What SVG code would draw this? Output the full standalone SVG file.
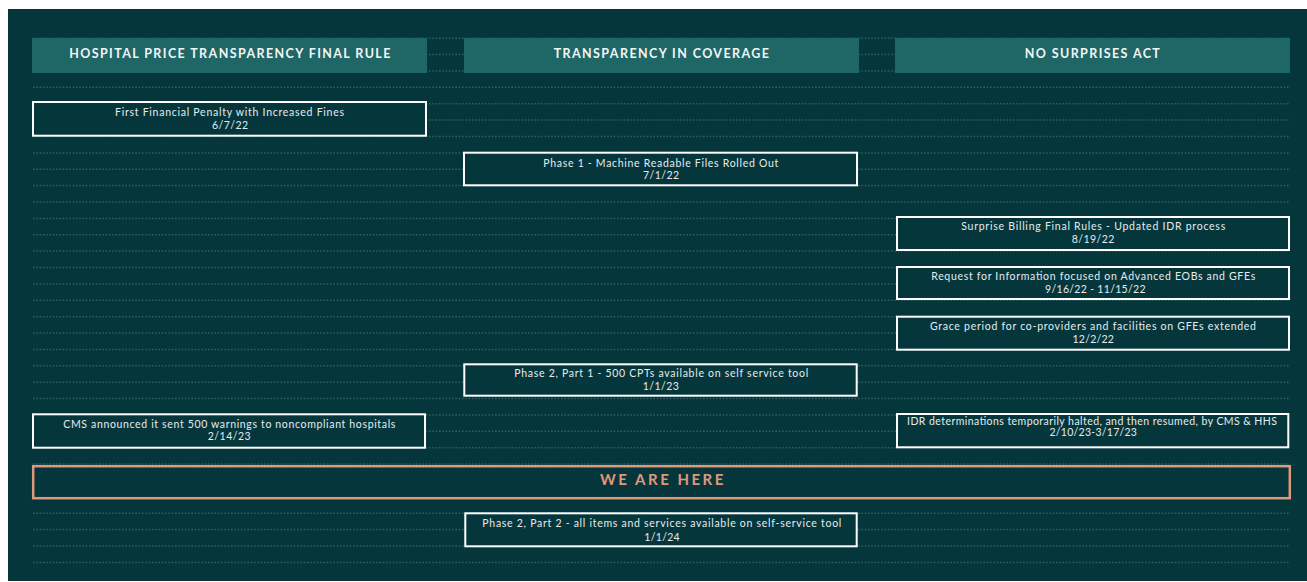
<svg xmlns="http://www.w3.org/2000/svg" width="1307" height="582" viewBox="0 0 1307 582">
<defs>
<style>
.bg{fill:#04363c}
.hdr{fill:#1f6766}
.dots{stroke:#2c5f63;stroke-width:1.5;stroke-dasharray:1.6 1.7;fill:none}
.box{fill:#04363c;stroke:#ffffff;stroke-width:2}
.here{fill:#04363c;stroke:#e0987a;stroke-width:2.5}
.ht{font-family:Lato,"Liberation Sans",sans-serif;font-weight:700;font-size:12.5px;letter-spacing:1.4px;fill:#f2f5f5;text-anchor:middle}
.bt{font-family:Lato,"Liberation Sans",sans-serif;font-size:10.5px;fill:#e6ecec;text-anchor:middle}
.wt{font-family:Lato,"Liberation Sans",sans-serif;font-weight:700;font-size:15px;letter-spacing:2.5px;fill:#e0987a;text-anchor:middle}
</style>
</defs>
<rect x="0" y="0" width="1307" height="582" fill="#ffffff"/>
<rect class="bg" x="8" y="9" width="1299" height="572"/>
<g id="gridlines" class="dots">
<path d="M33 38.2H1290M33 54.6H1290M33 71H1290M33 87.3H1290M33 103.7H1290M33 120.1H1290M33 136.5H1290M33 152.9H1290M33 169.2H1290M33 185.6H1290M33 202H1290M33 218.4H1290M33 234.8H1290M33 251.1H1290M33 267.5H1290M33 283.9H1290M33 300.3H1290M33 316.7H1290M33 333H1290M33 349.4H1290M33 365.8H1290M33 382.2H1290M33 398.6H1290M33 414.9H1290M33 431.3H1290M33 447.7H1290M33 464.1H1290M33 480.5H1290M33 496.8H1290M33 513.2H1290M33 529.6H1290M33 546H1290M33 562.4H1290"/>
</g>
<g id="header-hptfr">
<rect class="hdr" x="32" y="38" width="395" height="35"/>
<text class="ht" x="230.5" y="58">HOSPITAL PRICE TRANSPARENCY FINAL RULE</text>
</g>
<g id="header-tic">
<rect class="hdr" x="464" y="38" width="395" height="35"/>
<text class="ht" x="662" y="58">TRANSPARENCY IN COVERAGE</text>
</g>
<g id="header-nsa">
<rect class="hdr" x="895" y="38" width="395" height="35"/>
<text class="ht" x="1093" y="58">NO SURPRISES ACT</text>
</g>
<g id="connectors"></g>
<g id="n1">
<rect class="box" x="33" y="102" width="393" height="33.7"/>
<text class="bt" x="229.5" y="115.7" textLength="229" lengthAdjust="spacing">First Financial Penalty with Increased Fines</text>
<text class="bt" x="230" y="128.7" textLength="36" lengthAdjust="spacing">6/7/22</text>
</g>
<g id="n2">
<rect class="box" x="464" y="152.7" width="393" height="32.6"/>
<text class="bt" x="660.8" y="166.7" textLength="235" lengthAdjust="spacing">Phase 1 - Machine Readable Files Rolled Out</text>
<text class="bt" x="661" y="179.3" textLength="36" lengthAdjust="spacing">7/1/22</text>
</g>
<g id="n3">
<rect class="box" x="897" y="217" width="392" height="33"/>
<text class="bt" x="1093.2" y="230" textLength="264" lengthAdjust="spacing">Surprise Billing Final Rules - Updated IDR process</text>
<text class="bt" x="1093" y="243.3" textLength="42.5" lengthAdjust="spacing">8/19/22</text>
</g>
<g id="n4">
<rect class="box" x="897" y="267" width="392" height="32"/>
<text class="bt" x="1093.2" y="280" textLength="324" lengthAdjust="spacing">Request for Information focused on Advanced EOBs and GFEs</text>
<text class="bt" x="1095.3" y="292.7" textLength="100.5" lengthAdjust="spacing">9/16/22 - 11/15/22</text>
</g>
<g id="n5">
<rect class="box" x="897" y="316.7" width="392" height="33"/>
<text class="bt" x="1093" y="330" textLength="326" lengthAdjust="spacing">Grace period for co-providers and facilities on GFEs extended</text>
<text class="bt" x="1093.2" y="342.7" textLength="41.5" lengthAdjust="spacing">12/2/22</text>
</g>
<g id="n6">
<rect class="box" x="464.3" y="364.3" width="392.4" height="31.4"/>
<text class="bt" x="661.2" y="377.3" textLength="294" lengthAdjust="spacing">Phase 2, Part 1 - 500 CPTs available on self service tool</text>
<text class="bt" x="660.8" y="390" textLength="36" lengthAdjust="spacing">1/1/23</text>
</g>
<g id="n7">
<rect class="box" x="33" y="414.3" width="392" height="33.4"/>
<text class="bt" x="229.3" y="428.3" textLength="332" lengthAdjust="spacing">CMS announced it sent 500 warnings to noncompliant hospitals</text>
<text class="bt" x="229.2" y="440" textLength="43" lengthAdjust="spacing">2/14/23</text>
</g>
<g id="n8">
<rect class="box" x="897" y="414" width="391.3" height="33.3"/>
<text class="bt" x="1092" y="425" textLength="370" lengthAdjust="spacing">IDR determinations temporarily halted, and then resumed, by CMS &amp; HHS</text>
<text class="bt" x="1093.2" y="435.7" textLength="87.5" lengthAdjust="spacing">2/10/23-3/17/23</text>
</g>
<g id="we-are-here">
<rect class="here" x="33.2" y="466.2" width="1256.6" height="32"/>
<text class="wt" x="663" y="484.5">WE ARE HERE</text>
</g>
<g id="n10">
<rect class="box" x="465.3" y="513.3" width="391.4" height="33"/>
<text class="bt" x="661.8" y="526.7" textLength="359" lengthAdjust="spacing">Phase 2, Part 2 - all items and services available on self-service tool</text>
<text class="bt" x="662" y="540.7" textLength="35.3" lengthAdjust="spacing">1/1/24</text>
</g>
</svg>
